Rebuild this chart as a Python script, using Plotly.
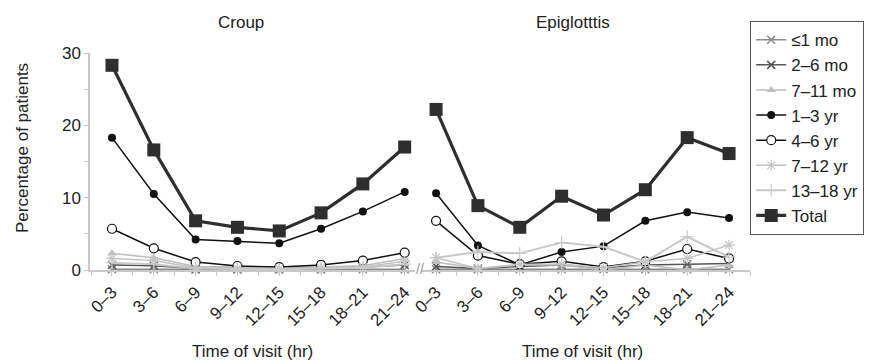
import plotly.graph_objects as go

categories = ["0–3", "3–6", "6–9", "9–12", "12–15", "15–18", "18–21", "21–24"]
series_names = ["≤1 mo", "2–6 mo", "7–11 mo", "1–3 yr", "4–6 yr", "7–12 yr", "13–18 yr", "Total"]

croup_le1mo = [0.1, 0.1, 0.05, 0.05, 0.05, 0.05, 0.1, 0.1]
croup_2_6mo = [0.7, 0.6, 0.2, 0.2, 0.2, 0.3, 0.4, 0.7]
croup_7_11mo = [2.3, 1.7, 0.5, 0.4, 0.4, 0.4, 0.6, 1.6]
croup_1_3yr = [18.3, 10.5, 4.2, 4.0, 3.7, 5.7, 8.1, 10.8]
croup_4_6yr = [5.7, 3.0, 1.1, 0.55, 0.4, 0.7, 1.3, 2.4]
croup_7_12yr = [1.6, 1.3, 0.3, 0.2, 0.2, 0.3, 0.4, 1.2]
croup_13_18yr = [1.0, 0.8, 0.2, 0.1, 0.1, 0.2, 0.3, 0.8]
croup_total = [28.3, 16.6, 6.8, 5.9, 5.4, 7.9, 11.9, 17.0]

epi_le1mo = [0.1, 0.1, 0.1, 0.1, 0.1, 0.1, 0.1, 0.1]
epi_2_6mo = [0.5, 0.2, 0.5, 0.7, 0.3, 0.7, 0.8, 0.9]
epi_7_11mo = [1.1, 0.2, 0.7, 0.7, 0.0, 0.7, 0.0, 0.7]
epi_1_3yr = [10.6, 3.4, 0.7, 2.5, 3.3, 6.8, 8.0, 7.2]
epi_4_6yr = [6.8, 2.0, 0.8, 1.2, 0.4, 1.2, 2.9, 1.6]
epi_7_12yr = [1.7, 0.2, 0.8, 0.8, 0.3, 1.15, 1.6, 3.45]
epi_13_18yr = [1.7, 2.5, 2.3, 3.8, 3.2, 1.15, 4.6, 1.8]
epi_total = [22.2, 8.9, 5.9, 10.2, 7.6, 11.1, 18.3, 16.1]

croup = [croup_le1mo, croup_2_6mo, croup_7_11mo, croup_1_3yr, croup_4_6yr,
         croup_7_12yr, croup_13_18yr, croup_total]
epi = [epi_le1mo, epi_2_6mo, epi_7_11mo, epi_1_3yr, epi_4_6yr,
       epi_7_12yr, epi_13_18yr, epi_total]

styles = [
    dict(line=dict(color="#8a8a8a", width=1.5), marker=dict(symbol="x-thin", size=8, color="#8a8a8a", line=dict(color="#8a8a8a", width=1.5))),
    dict(line=dict(color="#555555", width=1.5), marker=dict(symbol="x-thin", size=8, color="#555555", line=dict(color="#555555", width=1.5))),
    dict(line=dict(color="#bdbdbd", width=1.5), marker=dict(symbol="triangle-up", size=8, color="#bdbdbd")),
    dict(line=dict(color="#111111", width=1.5), marker=dict(symbol="circle", size=8, color="#111111")),
    dict(line=dict(color="#111111", width=1.5), marker=dict(symbol="circle", size=9, color="white", line=dict(color="#111111", width=1.2))),
    dict(line=dict(color="#c4c4c4", width=1.5), marker=dict(symbol="asterisk", size=9, color="#c4c4c4", line=dict(color="#c4c4c4", width=1.2))),
    dict(line=dict(color="#c8c8c8", width=2), marker=dict(symbol="cross-thin", size=9, color="#c8c8c8", line=dict(color="#c8c8c8", width=1.2))),
    dict(line=dict(color="#2e2e2e", width=3.2), marker=dict(symbol="square", size=13, color="#2e2e2e")),
]

FONT = "Liberation Sans, Arial, sans-serif"

fig = go.Figure()
xs = list(range(len(categories)))
for name, vals, st in zip(series_names, croup, styles):
    fig.add_trace(go.Scatter(x=xs, y=vals, name=name, mode="lines+markers", legendgroup=name,
                             xaxis="x", yaxis="y", cliponaxis=False, **st))
for name, vals, st in zip(series_names, epi, styles):
    fig.add_trace(go.Scatter(x=xs, y=vals, name=name, mode="lines+markers", legendgroup=name,
                             xaxis="x2", yaxis="y2", cliponaxis=False, showlegend=False, **st))

axis_col = "#c8c8c8"
xcommon = dict(tickmode="array", tickvals=xs, ticktext=categories, tickangle=-45,
               showline=True, linecolor=axis_col, linewidth=1.5, showgrid=False, zeroline=False,
               ticks="outside", ticklen=4, tickcolor=axis_col, automargin=False,
               minor=dict(dtick=0.5, tick0=0.5, ticks="outside", ticklen=4, tickcolor=axis_col),
               tickfont=dict(size=17, color="#222"))

# page is drawn with an 8px body margin; figure sized to fit the 882x361 window
OFF = 8
W, H = 882 - OFF, 361 - OFF
plot_l, plot_t, plot_w, plot_h = 90 - OFF, 53 - OFF, 660, 217

fig.update_layout(
    width=W, height=H,
    margin=dict(l=plot_l, r=W - plot_l - plot_w, t=plot_t, b=H - plot_t - plot_h, autoexpand=False),
    paper_bgcolor="white", plot_bgcolor="white",
    font=dict(family=FONT, size=17, color="#222"),
    xaxis=dict(domain=[0, 0.492], range=[-0.526, 7.24], **xcommon),
    xaxis2=dict(domain=[0.5015, 1.0], range=[-0.36, 7.5], **xcommon),
    yaxis=dict(range=[0, 30], tickmode="array", tickvals=[0, 5, 10, 15, 20, 25, 30],
               ticktext=["0", "", "10", "", "20", "", "30"], automargin=False,
               showline=True, linecolor=axis_col, linewidth=1.5, showgrid=False, zeroline=False,
               ticks="outside", ticklen=4, tickcolor=axis_col, tickfont=dict(size=17, color="#222")),
    yaxis2=dict(range=[0, 30], anchor="x2", visible=False),
    showlegend=True,
)

def px(xp):  # page pixel -> paper x
    return (xp - OFF - plot_l) / plot_w
def py(yp):  # page pixel -> paper y
    return (plot_t + plot_h - (yp - OFF)) / plot_h

fig.update_layout(
    legend=dict(x=px(750), xanchor="left", y=py(21), yanchor="top", bordercolor="#555",
                borderwidth=1.2, bgcolor="white", font=dict(size=17, color="#222"),
                tracegroupgap=0, itemwidth=30, maxheight=400),
)

def ann(text, x, y, **kw):
    fig.add_annotation(text=text, x=px(x), y=py(y), xref="paper", yref="paper",
                       showarrow=False, xanchor="center", yanchor="middle", **kw)

ann("Croup", 241, 22, font=dict(size=17))
ann("Epiglotttis", 573, 22, font=dict(size=17))
ann("Time of visit (hr)", 252, 351, font=dict(size=17))
ann("Time of visit (hr)", 582, 351, font=dict(size=17))
ann("Percentage of patients", 22, 148, textangle=-90, font=dict(size=17))
ann("//", 420, 269, font=dict(size=14, color="#999"))

fig.write_html("out.html")
